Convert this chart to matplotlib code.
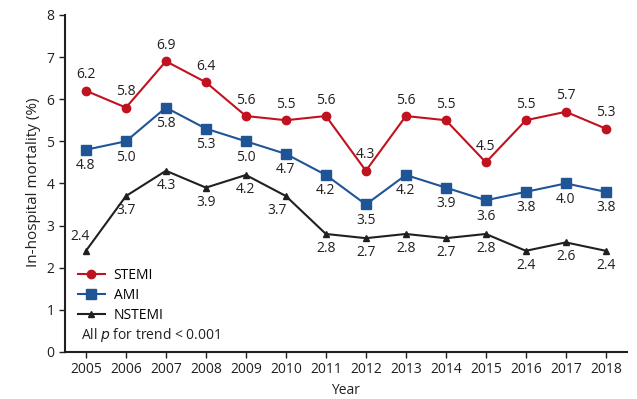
import matplotlib.pyplot as plt

plt.rcParams['font.family'] = ['Open Sans', 'DejaVu Sans']

years = list(range(2005, 2019))
stemi = [6.2, 5.8, 6.9, 6.4, 5.6, 5.5, 5.6, 4.3, 5.6, 5.5, 4.5, 5.5, 5.7, 5.3]
ami = [4.8, 5.0, 5.8, 5.3, 5.0, 4.7, 4.2, 3.5, 4.2, 3.9, 3.6, 3.8, 4.0, 3.8]
nstemi = [2.4, 3.7, 4.3, 3.9, 4.2, 3.7, 2.8, 2.7, 2.8, 2.7, 2.8, 2.4, 2.6, 2.4]

red = "#C0121F"
blue = "#1F5596"
black = "#231F20"

fig = plt.figure(figsize=(6.37, 3.99), dpi=100)
ax = fig.add_axes([0.102, 0.118, 0.882, 0.852])

ax.plot(years, stemi, color=red, marker="o", markersize=6, lw=1.5, label="STEMI")
ax.plot(years, ami, color=blue, marker="s", markersize=6.5, lw=1.5, label="AMI")
ax.plot(years, nstemi, color=black, marker="^", markersize=5, lw=1.5, label="NSTEMI")

fs = 10
# labels: red above, blue below, black mostly below
for x, v in zip(years, stemi):
    ax.annotate(f"{v:.1f}", (x, v), xytext=(0, 6), textcoords="offset points",
                ha="center", va="bottom", fontsize=fs, color=black)
for x, v in zip(years, ami):
    ax.annotate(f"{v:.1f}", (x, v), xytext=(0, -6), textcoords="offset points",
                ha="center", va="top", fontsize=fs, color=black)
for i, (x, v) in enumerate(zip(years, nstemi)):
    if i == 0:
        ax.annotate(f"{v:.1f}", (x, v), xytext=(-4, 5), textcoords="offset points",
                    ha="center", va="bottom", fontsize=fs, color=black)
    elif i == 5:
        ax.annotate(f"{v:.1f}", (x, v), xytext=(-6, -5), textcoords="offset points",
                    ha="center", va="top", fontsize=fs, color=black)
    else:
        ax.annotate(f"{v:.1f}", (x, v), xytext=(0, -5), textcoords="offset points",
                    ha="center", va="top", fontsize=fs, color=black)

ax.set_xlim(2004.475, 2018.525)
ax.set_ylim(0, 8.07)
ax.set_xticks(years)
ax.set_yticks(range(0, 9))
ax.tick_params(labelsize=fs, colors=black, direction="out", length=4, width=1)
for s in ["top", "right"]:
    ax.spines[s].set_visible(False)
for s in ["left", "bottom"]:
    ax.spines[s].set_linewidth(1.5)
    ax.spines[s].set_color(black)
ax.spines["left"].set_bounds(0, 8)

ax.set_xlabel("Year", fontsize=fs, color=black)
ax.set_ylabel("In-hospital mortality (%)", fontsize=11, color=black)

leg = ax.legend(loc="upper left", bbox_to_anchor=(0.005, 0.275), frameon=False,
                fontsize=fs, handlelength=2.0, handletextpad=0.6,
                labelspacing=0.35, borderaxespad=0.3)
ax.text(0.028, 0.05, "All $p$ for trend < 0.001", transform=ax.transAxes,
        fontsize=fs, color=black, ha="left", va="center")

plt.savefig("out.png", dpi=100)
